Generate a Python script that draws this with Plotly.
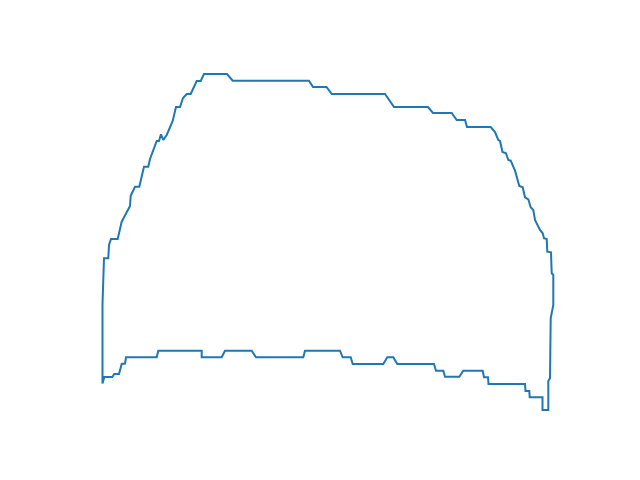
import plotly.graph_objects as go

# outline (x to the right, y upward)
xs = [102.5, 104, 108.3, 109, 111, 117.7, 121.7, 125.7, 130, 130.7, 135, 139.3,
      144, 148.3, 150, 156.7, 159, 161, 163.3, 166.7, 172.7, 176, 180, 183,
      186.7, 190.7, 196.7, 200.7, 204, 227, 232.7, 309, 313, 326.5, 331.7, 385,
      394, 428, 433, 451.7, 456.7, 465, 467, 490.7, 495, 498.3, 500, 502.5,
      506, 508.3, 510.7, 515, 519.3, 522.7, 525, 528.3, 530.7, 533.3, 535, 540,
      542.7, 544, 546.7, 547.3, 551, 551.7, 553.3, 553.3, 550.7, 550, 548.3,
      548.3, 542.5, 542.5, 529.7, 529.3, 525.5, 525, 488.5, 488, 484, 482.7,
      463.3, 459.3, 445, 443.3, 436, 434, 397.3, 393.3, 387.3, 383.3, 352.7,
      350.7, 342.7, 340, 305, 303.3, 256, 251.7, 225, 221.7, 201.7, 201.7,
      158.3, 156.7, 126, 125, 121.7, 119, 114.3, 112.3, 104.3, 102.5, 102.5]
ys = [304, 258.3, 258.3, 245, 239, 239, 221.7, 213.3, 206, 195.7, 186.7, 186.7,
      166.7, 166.7, 159, 141, 141, 134.3, 140, 135, 121, 107, 107, 98,
      94, 94, 81, 81, 74, 74, 80.7, 80.7, 87, 87, 94, 94,
      107, 107, 113, 113, 120, 120, 127, 127, 132, 140, 141, 152,
      153.3, 160, 160.7, 170.7, 186, 187.3, 197.3, 199.3, 207.3, 210, 220, 230,
      233.3, 238.3, 239, 251.7, 252.3, 273.3, 275, 305, 318.3, 378.3, 381,
      410, 410, 397.3, 397.3, 391, 391, 384, 384, 377.3, 377.3, 370.7,
      370.7, 376.7, 376.7, 370.7, 370.7, 364, 364, 357.3, 357.3, 364, 364,
      357.3, 357.3, 350.7, 350.7, 357.3, 357.3, 350.7, 350.7, 357.3, 357.3, 350.7,
      350.7, 357.3, 357.3, 363.5, 364, 374, 374, 377, 377, 383.5, 304]
ys = [480 - v for v in ys]

fig = go.Figure(go.Scatter(x=xs, y=ys, mode='lines',
                           line=dict(color='#1f77b4', width=2),
                           hoverinfo='skip'))

# the page body has an 8px margin, so the ranges are shifted to compensate
fig.update_layout(
    width=640, height=480,
    margin=dict(l=0, r=0, t=0, b=0),
    paper_bgcolor='white',
    plot_bgcolor='white',
    showlegend=False,
    xaxis=dict(range=[8, 648], visible=False),
    yaxis=dict(range=[-8, 472], visible=False),
)

fig.write_html("out.html")
